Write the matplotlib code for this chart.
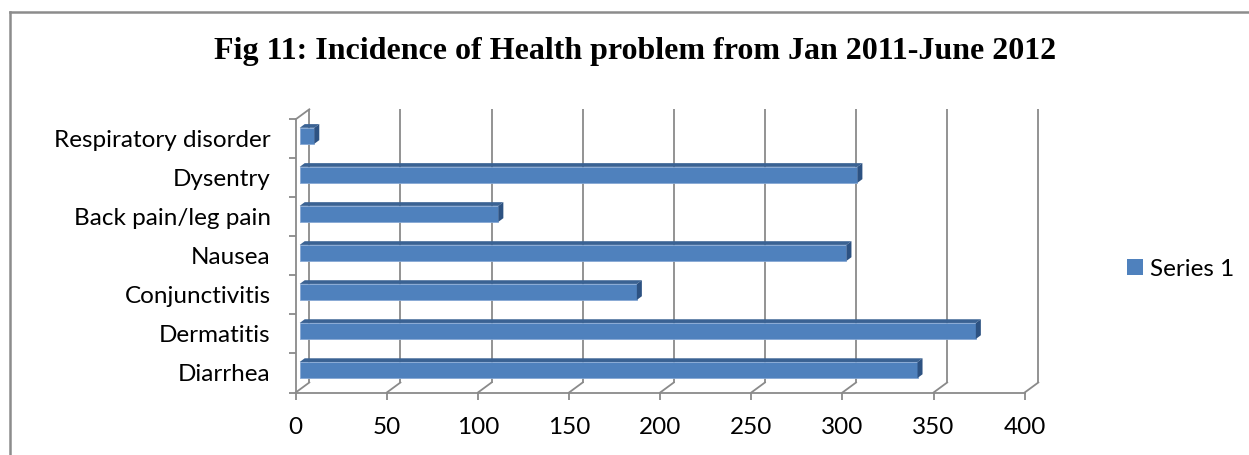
import matplotlib
matplotlib.use('Agg')
import matplotlib.pyplot as plt
from matplotlib.patches import Polygon, Patch
from matplotlib.lines import Line2D

# data, bottom to top as drawn
categories = ['Diarrhea', 'Dermatitis', 'Conjunctivitis', 'Nausea',
              'Back pain/leg pain', 'Dysentry', 'Respiratory disorder']
values = [339, 371, 185, 300, 109, 306, 8]
xticks = [0, 50, 100, 150, 200, 250, 300, 350, 400]
title = 'Fig 11: Incidence of Health problem from Jan 2011-June 2012'
series_name = 'Series 1'

W, H = 1249, 455
fig = plt.figure(figsize=(W / 100, H / 100), dpi=100)

# front plane of the plot area, in pixels
x0_px, x1_px = 295.7, 1024.7
yb_px, yt_px = 392.5, 119.3
ax = fig.add_axes([x0_px / W, 1 - yb_px / H, (x1_px - x0_px) / W, (yb_px - yt_px) / H])
ax.set_xlim(0, 400)
ax.set_ylim(-0.5, len(categories) - 0.5)

px_x = (x1_px - x0_px) / 400.0          # pixels per value unit
px_y = (yb_px - yt_px) / len(categories)  # pixels per category

def off(dx_px, dy_px):
    return dx_px / px_x, dy_px / px_y

grid_c = '#8a8a8a'
grid_w = 1.3

# back wall / floor depth
bdx, bdy = off(13.6, 10.0)
ytop = len(categories) - 0.5
for t in xticks:
    ax.plot([t + bdx, t + bdx], [-0.5 + bdy, ytop + bdy], color=grid_c, lw=grid_w,
            clip_on=False, zorder=1, solid_capstyle='butt')
    ax.plot([t, t + bdx], [-0.5, -0.5 + bdy], color=grid_c, lw=grid_w,
            clip_on=False, zorder=1)
ax.plot([0, bdx], [ytop, ytop + bdy], color=grid_c, lw=grid_w, clip_on=False, zorder=1)

# bars (fake 3d)
fdx, fdy = off(4.0, 3.0)
ddx, ddy = off(5.0, 3.7)
h = 0.41
front_c = '#4F81BD'
top_c = '#3A6293'
side_c = '#2D5282'
for i, v in enumerate(values):
    yc = i + fdy
    ax.barh(yc, v, left=fdx, height=h, color=front_c, edgecolor='#86A8D4',
            linewidth=0.6, zorder=3, clip_on=False)
    yt = yc + h / 2
    yb = yc - h / 2
    xr = fdx + v
    ax.add_patch(Polygon([(fdx, yt), (xr, yt), (xr + ddx, yt + ddy), (fdx + ddx, yt + ddy)],
                         closed=True, facecolor=top_c, edgecolor='none', zorder=3, clip_on=False))
    ax.add_patch(Polygon([(xr, yb), (xr, yt), (xr + ddx, yt + ddy), (xr + ddx, yb + ddy)],
                         closed=True, facecolor=side_c, edgecolor='none', zorder=3, clip_on=False))

# axes styling
for s in ['top', 'right']:
    ax.spines[s].set_visible(False)
for s in ['left', 'bottom']:
    ax.spines[s].set_color(grid_c)
    ax.spines[s].set_linewidth(grid_w)
    ax.spines[s].set_zorder(2)

lab_font = 'Lato'
lab_size = 17.5
ax.set_xticks(xticks)
ax.set_xticklabels([str(t) for t in xticks], fontsize=lab_size, family=lab_font)
ax.tick_params(axis='x', length=5, width=grid_w, color=grid_c, pad=13)

ax.set_yticks([i - 0.5 for i in range(len(categories) + 1)])
ax.set_yticklabels([])
ax.set_yticks(range(len(categories)), minor=True)
ax.set_yticklabels(categories, minor=True, fontsize=lab_size, family=lab_font)
ax.tick_params(axis='y', which='major', length=5, width=grid_w, color=grid_c)
ax.tick_params(axis='y', which='minor', length=0, pad=18)
ax.set_facecolor('none')

# title
fig.text(635 / W, 1 - 52 / H, title, ha='center', va='center', fontsize=23,
         fontweight='bold', family='Liberation Serif')

# legend
fig.legend(handles=[Patch(facecolor=front_c)], labels=[series_name],
           loc='center left', bbox_to_anchor=(1127 / W, 1 - 269 / H), frameon=False,
           prop={'family': lab_font, 'size': lab_size}, handlelength=0.65, handleheight=0.65,
           handletextpad=0.3, borderaxespad=0, borderpad=0)

# outer border
fig.add_artist(Line2D([9.5 / W, 1.0], [1 - 11.5 / H, 1 - 11.5 / H], color='#8c8c8c', lw=1.8))
fig.add_artist(Line2D([9.5 / W, 9.5 / W], [1 - 11.5 / H, 0.0], color='#8c8c8c', lw=1.8))

fig.savefig('out.png', dpi=100)
